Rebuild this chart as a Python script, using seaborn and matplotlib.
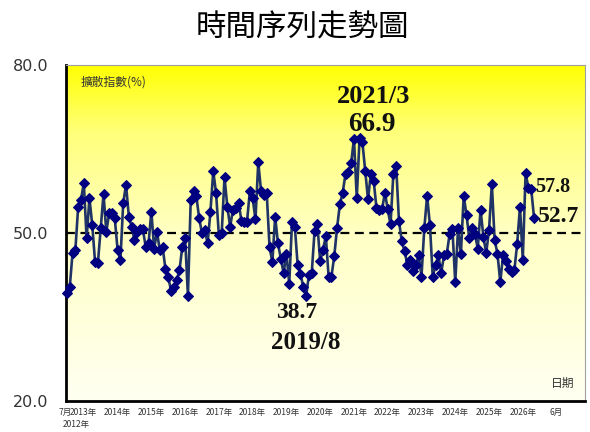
import numpy as np
import pandas as pd
import seaborn as sns
import matplotlib.pyplot as plt
import matplotlib.transforms as mtransforms
from matplotlib.colors import LinearSegmentedColormap

# monthly diffusion index, first point = 2012/7
values = [
    39.2, 40.3, 46.4, 46.9, 54.7, 55.9, 58.9, 49.0, 56.2, 51.4,
    44.8, 44.6, 50.8, 56.9, 50.2, 53.5, 53.6, 52.6, 47.0, 45.1,
    55.3, 58.6, 52.9, 51.1, 48.7, 50.2, 50.6, 50.6, 47.5, 48.1,
    53.8, 47.2, 50.2, 46.9, 47.5, 43.6, 42.1, 39.7, 40.3, 41.5,
    43.3, 47.5, 49.0, 38.8, 55.9, 57.4, 56.5, 52.6, 49.9, 50.5,
    48.1, 53.8, 61.0, 57.1, 49.6, 49.9, 59.9, 54.7, 51.1, 54.1,
    54.4, 55.4, 52.2, 52.0, 52.0, 57.4, 56.2, 52.4, 62.6, 57.4,
    56.8, 57.1, 47.5, 44.8, 52.9, 48.1, 45.4, 42.8, 46.3, 40.9,
    52.0, 51.1, 44.2, 42.7, 40.3, 38.7, 42.5, 42.8, 50.3, 51.5,
    44.9, 47.0, 49.4, 42.2, 42.2, 45.8, 50.9, 55.1, 57.2, 60.5,
    60.8, 62.4, 66.8, 56.2, 66.9, 66.2, 61.1, 56.0, 60.5, 59.3,
    54.5, 54.0, 54.2, 57.2, 54.2, 51.5, 60.5, 62.0, 52.1, 48.5,
    46.7, 44.3, 45.2, 43.1, 44.3, 46.0, 42.2, 50.8, 56.6, 51.4,
    42.2, 44.2, 46.0, 42.8, 46.0, 46.3, 49.8, 50.6, 41.2, 50.8,
    46.2, 56.6, 53.2, 49.0, 50.8, 49.8, 47.2, 54.1, 49.3, 46.4,
    50.5, 58.7, 48.7, 46.3, 41.2, 46.0, 45.0, 43.6, 43.0, 43.3,
    48.0, 54.7, 45.2, 60.7, 58.0, 57.8, 52.7,
]
months = list(range(len(values)))

tick_pos = [0] + [6 + 12 * k for k in range(14)] + [174]
tick_labels = ["7月"] + [f"{y}年" for y in range(2013, 2027)] + ["6月"]

title = "時間序列走勢圖"
y_label = "擴散指數(%)"
x_label = "日期"

df = pd.DataFrame({"month": months, "value": values})

sns.set_theme(style="white")
plt.rcParams["font.family"] = ["Noto Sans CJK TC", "DejaVu Sans"]

fig = plt.figure(figsize=(5.9, 4.32), dpi=100)
ax = fig.add_axes([0.112, 0.072, 0.879, 0.778])

xmin, xmax = -0.3, 184
# yellow gradient background
cmap = LinearSegmentedColormap.from_list(
    "bg", [(0, "#FFFFF2"), (0.5, "#FFFFC4"), (0.8, "#FFFF7A"), (1, "#FFFF00")])
grad = np.linspace(0, 1, 256).reshape(-1, 1)
ax.imshow(grad, extent=[xmin, xmax, 20, 80], origin="lower", aspect="auto",
          cmap=cmap, zorder=0)

ax.axhline(50, color="black", lw=1.6, ls=(0, (4, 2.5)), zorder=1)

sns.lineplot(data=df, x="month", y="value", ax=ax, color="#1F3366", lw=1.9,
             marker="D", markersize=5, markerfacecolor="#000080",
             markeredgecolor="#000080", zorder=3, clip_on=False)

ax.set_xlim(xmin, xmax)
ax.set_ylim(20, 80)
ax.set_yticks([20, 50, 80])
ax.set_yticklabels(["20.0", "50.0", "80.0"], fontsize=11.5, color="#333333",
                   family="DejaVu Sans")
ax.set_xticks(list(range(0, 181, 6)))
ax.set_xticklabels([tick_labels[tick_pos.index(t)] if t in tick_pos else ""
                    for t in range(0, 181, 6)], fontsize=6.1, color="#333333")
ax.tick_params(axis="x", direction="out", length=3, width=1, pad=2, color="black")
ax.tick_params(axis="y", direction="in", length=3, width=1, pad=13, color="black")
ax.set_xlabel("")
ax.set_ylabel("")

# nudge the first label ("7月") a little left so it just touches "2013年"
first = ax.get_xticklabels()[0]
first.set_transform(first.get_transform() +
                    mtransforms.ScaledTranslation(-2 / 100, 0, fig.dpi_scale_trans))

for side in ["left", "bottom"]:
    ax.spines[side].set_color("black")
    ax.spines[side].set_linewidth(2)
for side in ["top", "right"]:
    ax.spines[side].set_color("#A0A0A0")
    ax.spines[side].set_linewidth(0.8)

ax.text(-1.5, 15.8, "2012年", fontsize=6.1, color="#333333", ha="left",
        va="center", clip_on=False)

ax.text(5, 77, y_label, fontsize=8.5, color="#333333", ha="left", va="center")
ax.text(176, 23.2, x_label, fontsize=8.5, color="#333333", ha="center", va="center")

serif = dict(family="Liberation Serif", fontweight="bold", color="#111111")
ax.text(109, 74.3, "2021/3", fontsize=19, ha="center", va="center", **serif)
ax.text(108.5, 69.4, "66.9", fontsize=19.5, ha="center", va="center", **serif)
ax.text(81.5, 35.7, "38.7", fontsize=17, ha="center", va="center", **serif)
ax.text(85, 30.4, "2019/8", fontsize=18, ha="center", va="center", **serif)
ax.text(166.3, 58.2, "57.8", fontsize=14.5, ha="left", va="center", **serif)
ax.text(167.3, 53.0, "52.7", fontsize=17, ha="left", va="center", **serif)

fig.text(0.512, 0.935, title, fontsize=22, ha="center", va="center", color="black")

fig.savefig("out.png", dpi=100)
